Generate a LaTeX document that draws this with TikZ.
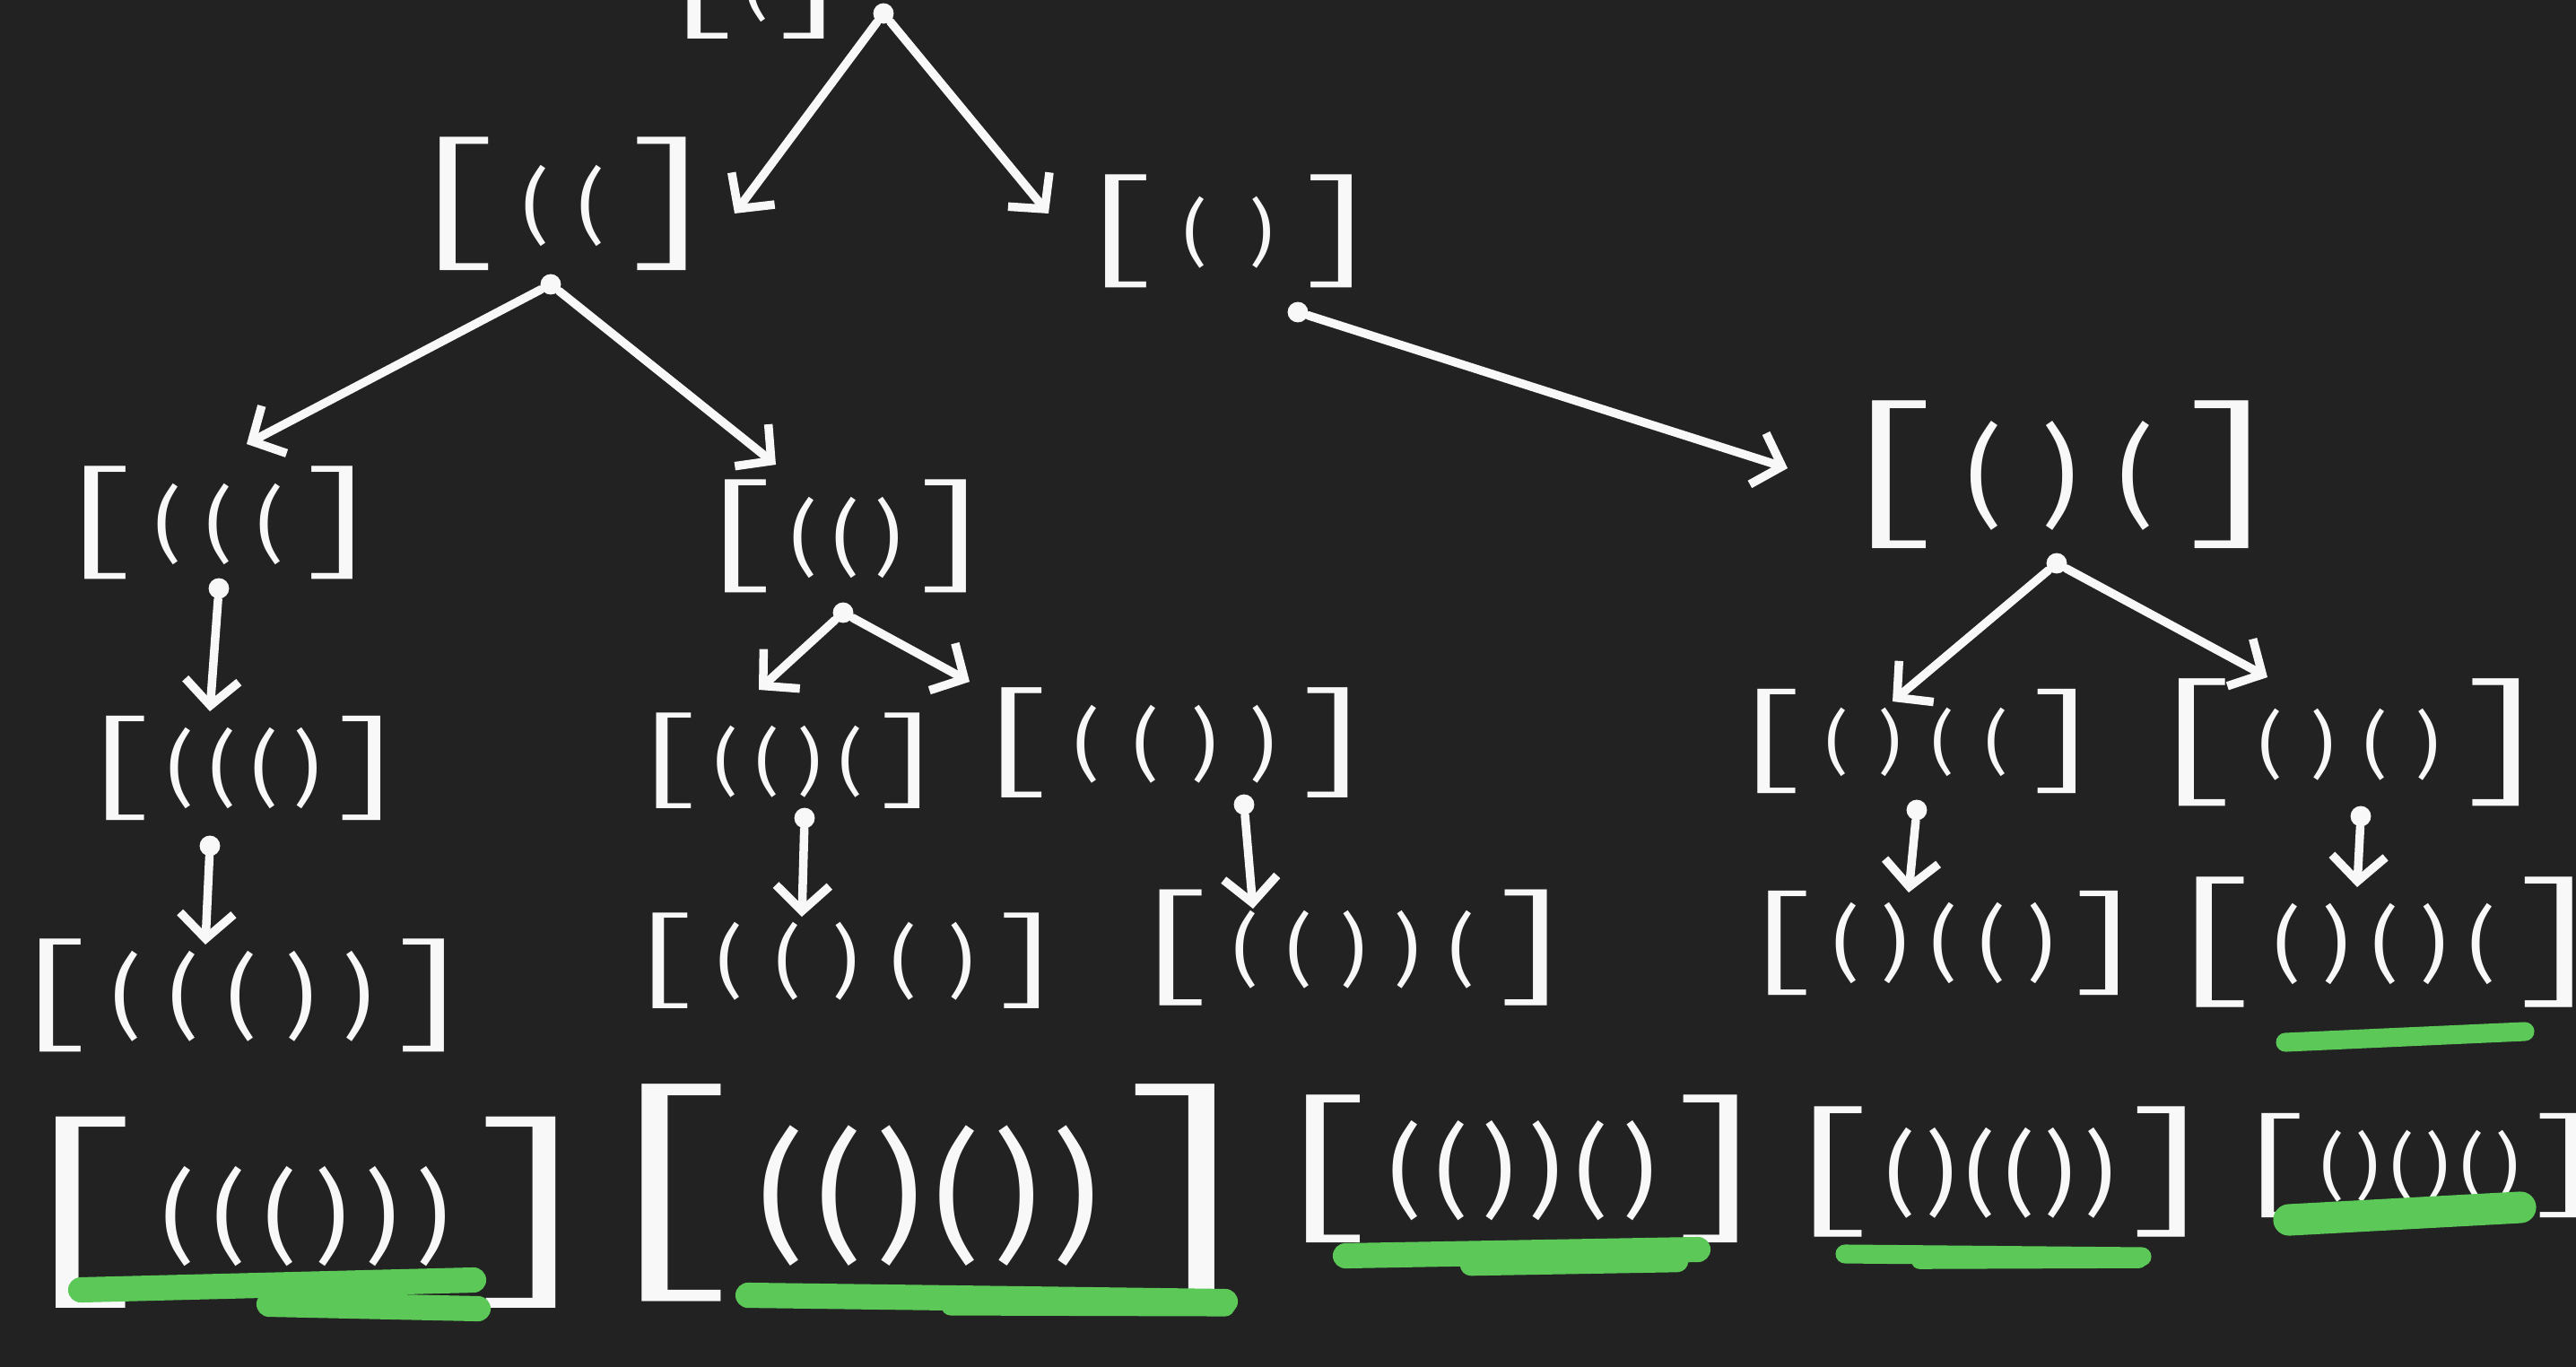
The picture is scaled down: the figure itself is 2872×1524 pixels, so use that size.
\documentclass[tikz,border=0pt]{standalone}
\usepackage{fontspec}
\usepackage{graphicx}
\usetikzlibrary{arrows.meta}
\newfontfamily\brfont{Fira Sans Light}
\newfontfamily\pafont{Fira Sans}
\definecolor{bgc}{RGB}{34,34,34}
\definecolor{ink}{RGB}{248,248,248}
\definecolor{hl}{RGB}{92,200,88}
\newcommand\brk[4]{{\brfont\fontsize{#1pt}{#1pt}\selectfont\scalebox{2}[1]{[}}\hspace{\dimexpr #2pt*#3/200\relax}\raisebox{\dimexpr(#1pt-#2pt)*314/1000\relax}{\pafont\fontsize{#2pt}{#2pt}\selectfont\addfontfeatures{LetterSpace=#3}#4}\hspace{\dimexpr #2pt*#3/200\relax}{\brfont\fontsize{#1pt}{#1pt}\selectfont\scalebox{2}[1]{]}}}
\tikzset{
  pnode/.style={text=ink, inner sep=0pt, anchor=center},
  dotn/.style={circle, fill=ink, inner sep=0pt, minimum size=6.5pt},
  arr/.style={draw=ink, line width=2.7pt, line cap=round, line join=round,
    -{Straight Barb[length=8pt,width=17pt,line width=2.7pt]}},
  hlline/.style={draw=hl, line cap=round, line width=#1}
}
\begin{document}
\begin{tikzpicture}[x=0.01cm,y=-0.01cm]
\useasboundingbox (0,0) rectangle (2872,1524);
\clip (0,0) rectangle (2872,1524);
\fill[bgc] (0,0) rectangle (2872,1524);

% nodes
\node[pnode] (R) at (843,-18) {\brk{38}{24}{0}{(}};
\node[pnode] (A) at (628,227) {\brk{46}{26}{35}{((}};
\node[pnode] (B) at (1370,258) {\brk{39}{23}{59}{()}};
\node[pnode] (C) at (244,583) {\brk{39}{26}{30}{(((}};
\node[pnode] (D) at (943,598) {\brk{39}{26}{19}{(()}};
\node[pnode] (E) at (2297,529) {\brk{51}{35}{36}{()(}};
\node[pnode] (F) at (272,856) {\brk{36}{26}{19}{((()}};
\node[pnode] (G) at (879,848) {\brk{33}{23}{25}{(()(}};
\node[pnode] (H) at (1310,828) {\brk{38}{25}{42}{(())}};
\node[pnode] (I) at (2137,826) {\brk{36}{22}{44}{()((}};
\node[pnode] (J) at (2619,828) {\brk{44}{23}{40}{()()}};
\node[pnode] (K) at (270,1110) {\brk{39}{29}{31}{((())}};
\node[pnode] (L) at (943,1071) {\brk{33}{25}{41}{(()()}};
\node[pnode] (M) at (1509,1057) {\brk{40}{25}{36}{(())(}};
\node[pnode] (N) at (2167,1051) {\brk{36}{26}{27}{()(()}};
\node[pnode] (O) at (2659,1050) {\brk{45}{26}{27}{()()(}};
\node[pnode] (P) at (341,1352) {\brk{66}{32}{18}{((()))}};
\node[pnode] (Q) at (1035,1330) {\brk{75}{45}{9}{(()())}};
\node[pnode] (S1) at (1697,1303) {\brk{51}{32}{14}{(())()}};
\node[pnode] (S2) at (2230,1306) {\brk{45}{29}{11}{()(())}};
\node[pnode] (T) at (2698,1299) {\brk{36}{23}{16}{()()()}};

% dots
\node[dotn] (dR) at (985,15) {};
\node[dotn] (dA) at (614,317) {};
\node[dotn] (dB) at (1447,348) {};
\node[dotn] (dC) at (244,656) {};
\node[dotn] (dD) at (940,683) {};
\node[dotn] (dE) at (2293,628) {};
\node[dotn] (dF) at (234,943) {};
\node[dotn] (dG) at (897,912) {};
\node[dotn] (dH) at (1387,897) {};
\node[dotn] (dI) at (2137,903) {};
\node[dotn] (dJ) at (2632,910) {};

% arrows
\draw[arr] (dR) -- ([shift={(191,11)}]A.center);
\draw[arr] (dR) -- ([shift={(-201,-20)}]B.center);
\draw[arr] (dA) -- ([shift={(31,-88)}]C.center);
\draw[arr] (dA) -- ([shift={(-78,-80)}]D.center);
\draw[arr] (dB) -- ([shift={(-304,-7)}]E.center);
\draw[arr] (dC) -- ([shift={(-38,-63)}]F.center);
\draw[arr] (dD) -- ([shift={(-33,-79)}]G.center);
\draw[arr] (dD) -- ([shift={(-229,-68)}]H.center);
\draw[arr] (dE) -- ([shift={(-27,-44)}]I.center);
\draw[arr] (dE) -- ([shift={(-91,-73)}]J.center);
\draw[arr] (dF) -- ([shift={(-41,-57)}]K.center);
\draw[arr] (dG) -- ([shift={(-49,-49)}]L.center);
\draw[arr] (dH) -- ([shift={(-112,-44)}]M.center);
\draw[arr] (dI) -- ([shift={(-39,-56)}]N.center);
\draw[arr] (dJ) -- ([shift={(-31,-61)}]O.center);

% green highlights
\draw[hlline=8pt] (90,1438) -- (528,1427);
\draw[hlline=8pt] (300,1454) -- (533,1459);
\draw[hlline=8pt] (834,1444) -- (1366,1451);
\draw[hlline=6pt] (1060,1456) -- (1366,1457);
\draw[hlline=8pt] (1500,1400) -- (1893,1393);
\draw[hlline=7pt] (1640,1410) -- (1870,1406);
\draw[hlline=6pt] (2057,1398) -- (2388,1401);
\draw[hlline=5pt] (2140,1406) -- (2385,1405);
\draw[hlline=10pt] (2552,1360) -- (2810,1346);
\draw[hlline=6pt] (2548,1162) -- (2815,1150);
\end{tikzpicture}
\end{document}
